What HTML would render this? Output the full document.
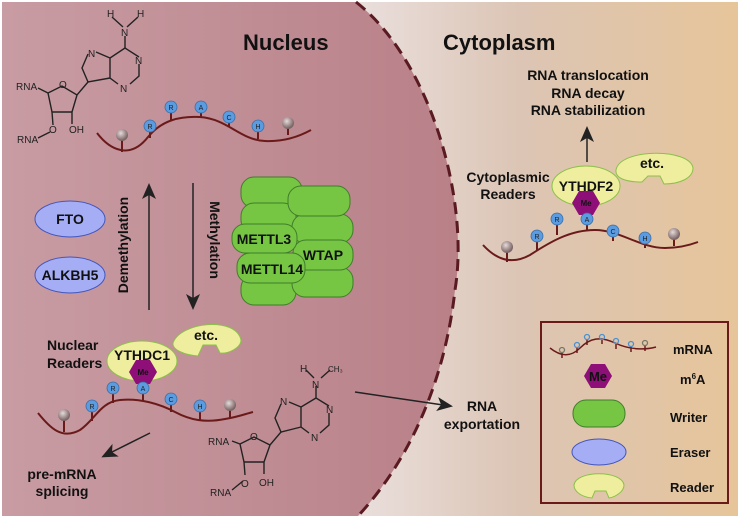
<!DOCTYPE html>
<html><head><meta charset="utf-8"><style>
html,body{margin:0;padding:0;background:#fff}
svg{display:block}
text{font-family:"Liberation Sans",Arial,sans-serif;font-weight:bold;fill:#111}
.n{font-weight:normal;font-size:10px;fill:#222}
</style></head><body>
<svg width="740" height="518" viewBox="0 0 740 518" xmlns="http://www.w3.org/2000/svg">
<defs>
<linearGradient id="cy" x1="0" y1="0" x2="1" y2="0">
<stop offset="0.45" stop-color="#ece3e3"/><stop offset="0.7" stop-color="#dcc5b5"/><stop offset="1" stop-color="#e6c59a"/></linearGradient>
<linearGradient id="nu" x1="0" y1="0" x2="1" y2="0">
<stop offset="0" stop-color="#c89ca3"/><stop offset="1" stop-color="#b98088"/></linearGradient>
<radialGradient id="gb" cx="0.4" cy="0.35" r="0.6"><stop offset="0" stop-color="#e6dada"/><stop offset="1" stop-color="#7a6464"/></radialGradient>
<marker id="ah" markerWidth="10" markerHeight="10" refX="8" refY="5" orient="auto" markerUnits="userSpaceOnUse" viewBox="0 0 10 10"><path d="M0,0 L10,5 L0,10 L3,5z" fill="#222"/></marker>
<marker id="ahb" markerWidth="16" markerHeight="16" refX="13" refY="8" orient="auto" markerUnits="userSpaceOnUse" viewBox="0 0 16 16"><path d="M0,1 L16,8 L0,15 L4,8z" fill="#222"/></marker>
<g id="hex"><polygon points="-14,0 -7,-12 7,-12 14,0 7,12 -7,12" fill="#8e0f78"/></g>
</defs>
<rect x="2" y="2" width="736" height="514" fill="url(#cy)"/>
<path d="M2,2 L356,2 C430,60 470,200 455,290 C445,380 410,460 358,516 L2,516z" fill="url(#nu)"/>
<path d="M356,2 C430,60 470,200 455,290 C445,380 410,460 358,516" fill="none" stroke="#5a1a22" stroke-width="3" stroke-dasharray="12,7"/>

<text x="243" y="50" font-size="22">Nucleus</text>
<text x="443" y="50" font-size="22">Cytoplasm</text>

<!-- top adenine -->
<g stroke="#222" stroke-width="1.4" fill="none">
<line x1="112" y1="17" x2="123" y2="27"/><line x1="138" y1="17" x2="127" y2="27"/>
<line x1="125" y1="36" x2="125" y2="48"/>
<path d="M125,48 L139,57 M139,64 L139,76 L130,84 M118,84 L110,78 L110,58 L125,48 M110,58 L96,52 M88,54 L82,68 L88,82 L110,78"/>
<path d="M88,82 L77,95 L62,86 L48,93 L52,112 L72,112 L77,95 M52,112 L53,125 M72,112 L72,124 M48,93 L38,88 M50,132 L38,138"/>
</g>
<g class="n"><text class="n" x="107" y="17">H</text><text class="n" x="137" y="17">H</text><text class="n" x="121" y="36">N</text><text class="n" x="88" y="57">N</text><text class="n" x="135" y="64">N</text><text class="n" x="120" y="92">N</text><text class="n" x="16" y="90">RNA</text><text class="n" x="59" y="88">O</text><text class="n" x="69" y="133">OH</text><text class="n" x="49" y="133">O</text><text class="n" x="17" y="143">RNA</text></g>

<!-- top mRNA -->
<g stroke="#6b1a1a" stroke-width="2" fill="none">
<path d="M97,133 C110,150 130,160 148,137 C162,120 180,116 200,117 C228,119 240,140 265,141 C285,142 300,136 311,130"/>
<path d="M122,139 V152 M150,128 V138 M171,108 V120 M201,108 V117 M229,118 V127 M258,127 V139 M288,124 V135"/>
</g>
<g stroke="#3a6da8" stroke-width="0.8" font-size="7"><circle cx="150" cy="126" r="6" fill="#5b9be0"/><circle cx="171" cy="107" r="6" fill="#5b9be0"/><circle cx="201" cy="107" r="6" fill="#5b9be0"/><circle cx="229" cy="117" r="6" fill="#5b9be0"/><circle cx="258" cy="126" r="6" fill="#5b9be0"/></g>
<g font-size="7" text-anchor="middle"><text x="150" y="129" class="n" style="font-size:7px">R</text><text x="171" y="110" class="n" style="font-size:7px">R</text><text x="201" y="110" class="n" style="font-size:7px">A</text><text x="229" y="120" class="n" style="font-size:7px">C</text><text x="258" y="129" class="n" style="font-size:7px">H</text></g>
<circle cx="122" cy="135" r="6" fill="url(#gb)"/><circle cx="288" cy="123" r="6" fill="url(#gb)"/>

<!-- arrows -->
<line x1="149" y1="310" x2="149" y2="186" stroke="#222" stroke-width="1.5" marker-end="url(#ahb)"/>
<line x1="193" y1="183" x2="193" y2="307" stroke="#222" stroke-width="1.5" marker-end="url(#ahb)"/>
<text transform="translate(128,245) rotate(-90)" font-size="14" text-anchor="middle">Demethylation</text>
<text transform="translate(210,240) rotate(90)" font-size="14" text-anchor="middle">Methylation</text>

<ellipse cx="70" cy="219" rx="35" ry="18" fill="#a5aef5" stroke="#4455bb"/>
<text x="70" y="224" font-size="14" text-anchor="middle">FTO</text>
<ellipse cx="70" cy="275" rx="35" ry="18" fill="#a5aef5" stroke="#4455bb"/>
<text x="70" y="280" font-size="14" text-anchor="middle">ALKBH5</text>

<!-- writers -->
<g fill="#76c644" stroke="#3f7d2a" stroke-width="1">
<rect x="241" y="177" width="61" height="31" rx="13"/>
<rect x="241" y="203" width="55" height="30" rx="13"/>
<rect x="241" y="275" width="55" height="30" rx="13"/>
<rect x="292" y="214" width="61" height="29" rx="13"/>
<rect x="292" y="267" width="61" height="30" rx="13"/>
<rect x="293" y="240" width="60" height="30" rx="13"/>
<rect x="288" y="186" width="62" height="30" rx="13"/>
<rect x="232" y="224" width="65" height="29" rx="13"/>
<rect x="237" y="253" width="68" height="30" rx="13"/>
</g>
<text x="264" y="244" font-size="14" text-anchor="middle">METTL3</text>
<text x="272" y="274" font-size="14" text-anchor="middle">METTL14</text>
<text x="323" y="260" font-size="14" text-anchor="middle">WTAP</text>

<!-- nuclear readers -->
<text x="47" y="350" font-size="14">Nuclear</text>
<text x="47" y="368" font-size="14">Readers</text>
<ellipse cx="142" cy="361" rx="35" ry="20" fill="#eeee9e" stroke="#8cc04a"/>
<text x="142" y="360" font-size="14" text-anchor="middle">YTHDC1</text>
<use href="#hex" x="143" y="372"/>
<text x="143" y="375" font-size="8" text-anchor="middle">Me</text>
<path d="M173,343 C180,322 236,316 241,340 C241,348 228,354 220,353 L216,345 L203,345 L198,356 C185,355 172,350 173,343z" fill="#eeee9e" stroke="#8cc04a"/>
<text x="206" y="340" font-size="14" text-anchor="middle">etc.</text>

<!-- bottom mRNA -->
<g stroke="#6b1a1a" stroke-width="2" fill="none">
<path d="M38,413 C50,428 62,440 80,430 C95,420 100,402 120,400 C140,398 160,404 175,412 C190,420 205,423 225,419 C238,417 245,414 253,412"/>
<path d="M64,418 V432 M92,408 V421 M113,390 V403 M143,390 V401 M171,401 V412 M200,408 V420 M230,408 V418"/>
</g>
<g stroke="#3a6da8" stroke-width="0.8"><circle cx="92" cy="406" r="6" fill="#5b9be0"/><circle cx="113" cy="388" r="6" fill="#5b9be0"/><circle cx="143" cy="388" r="6" fill="#5b9be0"/><circle cx="171" cy="399" r="6" fill="#5b9be0"/><circle cx="200" cy="406" r="6" fill="#5b9be0"/></g>
<g text-anchor="middle"><text x="92" y="409" class="n" style="font-size:7px">R</text><text x="113" y="391" class="n" style="font-size:7px">R</text><text x="143" y="391" class="n" style="font-size:7px">A</text><text x="171" y="402" class="n" style="font-size:7px">C</text><text x="200" y="409" class="n" style="font-size:7px">H</text></g>
<circle cx="64" cy="415" r="6" fill="url(#gb)"/><circle cx="230" cy="405" r="6" fill="url(#gb)"/>

<line x1="150" y1="433" x2="104" y2="456" stroke="#222" stroke-width="1.5" marker-end="url(#ahb)"/>
<text x="62" y="479" font-size="14" text-anchor="middle">pre-mRNA</text>
<text x="62" y="496" font-size="14" text-anchor="middle">splicing</text>

<!-- bottom m6A adenine -->
<g stroke="#222" stroke-width="1.4" fill="none">
<path d="M306,370 L314,378 M321,378 L330,370 M316,386 L316,398 L329,406 M329,413 L329,425 L320,433 M309,433 L301,427 L301,407 L316,398 M301,407 L289,402 M281,404 L275,418 L281,432 L301,427"/>
<path d="M281,432 L270,445 L254,437 L240,444 L244,462 L264,462 L270,445 M244,462 L245,475 M264,462 L264,474 M240,444 L232,441 M243,481 L232,490"/>
</g>
<g><text class="n" x="300" y="372">H</text><text class="n" x="328" y="372" style="font-size:8px">CH₃</text><text class="n" x="312" y="388">N</text><text class="n" x="326" y="413">N</text><text class="n" x="311" y="441">N</text><text class="n" x="280" y="405">N</text><text class="n" x="208" y="445">RNA</text><text class="n" x="250" y="440">O</text><text class="n" x="259" y="486">OH</text><text class="n" x="241" y="487">O</text><text class="n" x="210" y="496">RNA</text></g>

<line x1="355" y1="392" x2="450" y2="406" stroke="#222" stroke-width="1.5" marker-end="url(#ahb)"/>
<text x="482" y="411" font-size="14" text-anchor="middle">RNA</text>
<text x="482" y="429" font-size="14" text-anchor="middle">exportation</text>

<!-- cytoplasm -->
<text x="588" y="80" font-size="14" text-anchor="middle">RNA translocation</text>
<text x="588" y="98" font-size="14" text-anchor="middle">RNA decay</text>
<text x="588" y="115" font-size="14" text-anchor="middle">RNA stabilization</text>
<line x1="587" y1="162" x2="587" y2="129" stroke="#222" stroke-width="1.5" marker-end="url(#ahb)"/>
<text x="508" y="182" font-size="14" text-anchor="middle">Cytoplasmic</text>
<text x="508" y="199" font-size="14" text-anchor="middle">Readers</text>
<ellipse cx="586" cy="186" rx="34" ry="20" fill="#eeee9e" stroke="#8cc04a"/>
<text x="586" y="191" font-size="14" text-anchor="middle">YTHDF2</text>
<use href="#hex" x="586" y="203"/>
<text x="586" y="206" font-size="8" text-anchor="middle">Me</text>
<path d="M616,170 C620,148 690,148 693,168 C693,178 680,184 664,184 L660,176 L648,176 L642,182 C625,182 615,178 616,170z" fill="#eeee9e" stroke="#8cc04a"/>
<text x="652" y="168" font-size="14" text-anchor="middle">etc.</text>

<g stroke="#6b1a1a" stroke-width="2" fill="none">
<path d="M483,245 C495,258 510,266 530,255 C550,242 570,230 595,230 C620,230 640,248 665,248 C680,248 690,245 698,242"/>
<path d="M507,250 V262 M537,238 V250 M557,221 V235 M587,221 V230 M613,233 V241 M645,240 V248 M674,237 V246"/>
</g>
<g stroke="#3a6da8" stroke-width="0.8"><circle cx="537" cy="236" r="6" fill="#5b9be0"/><circle cx="557" cy="219" r="6" fill="#5b9be0"/><circle cx="587" cy="219" r="6" fill="#5b9be0"/><circle cx="613" cy="231" r="6" fill="#5b9be0"/><circle cx="645" cy="238" r="6" fill="#5b9be0"/></g>
<g text-anchor="middle"><text x="537" y="239" class="n" style="font-size:7px">R</text><text x="557" y="222" class="n" style="font-size:7px">R</text><text x="587" y="222" class="n" style="font-size:7px">A</text><text x="613" y="234" class="n" style="font-size:7px">C</text><text x="645" y="241" class="n" style="font-size:7px">H</text></g>
<circle cx="507" cy="247" r="6" fill="url(#gb)"/><circle cx="674" cy="234" r="6" fill="url(#gb)"/>

<!-- legend -->
<rect x="541" y="322" width="187" height="181" fill="none" stroke="#6b1a1a" stroke-width="2"/>
<g stroke="#6b1a1a" stroke-width="1.5" fill="none">
<path d="M550,348 C560,356 570,358 580,348 C590,338 600,336 615,343 C630,350 645,350 656,347"/>
<path d="M562,352 V358 M577,347 V353 M587,339 V345 M602,339 V344 M616,343 V349 M631,346 V352 M645,345 V351"/>
</g>
<g fill="none" stroke-width="1.3"><circle cx="562" cy="350" r="2.5" stroke="#776"/><circle cx="577" cy="345" r="2.5" stroke="#4a90d0"/><circle cx="587" cy="337" r="2.5" stroke="#4a90d0"/><circle cx="602" cy="337" r="2.5" stroke="#4a90d0"/><circle cx="616" cy="341" r="2.5" stroke="#4a90d0"/><circle cx="631" cy="344" r="2.5" stroke="#4a90d0"/><circle cx="645" cy="343" r="2.5" stroke="#776"/></g>
<text x="673" y="354" font-size="13">mRNA</text>
<polygon points="584,376 591,364 605,364 612,376 605,388 591,388" fill="#8e0f78"/>
<text x="598" y="381" font-size="13" text-anchor="middle">Me</text>
<text x="680" y="384" font-size="13">m<tspan font-size="8" dy="-5">6</tspan><tspan dy="5">A</tspan></text>
<rect x="573" y="400" width="52" height="27" rx="13" fill="#76c644" stroke="#3f7d2a"/>
<text x="670" y="422" font-size="13">Writer</text>
<ellipse cx="599" cy="452" rx="27" ry="13" fill="#a5aef5" stroke="#4455bb"/>
<text x="670" y="457" font-size="13">Eraser</text>
<path d="M574,485 C576,470 622,470 624,485 C624,492 615,497 609,498 L606,491 L595,491 L592,498 C582,497 574,492 574,485z" fill="#eeee9e" stroke="#8cc04a"/>
<text x="670" y="492" font-size="13">Reader</text>
</svg>
</body></html>
